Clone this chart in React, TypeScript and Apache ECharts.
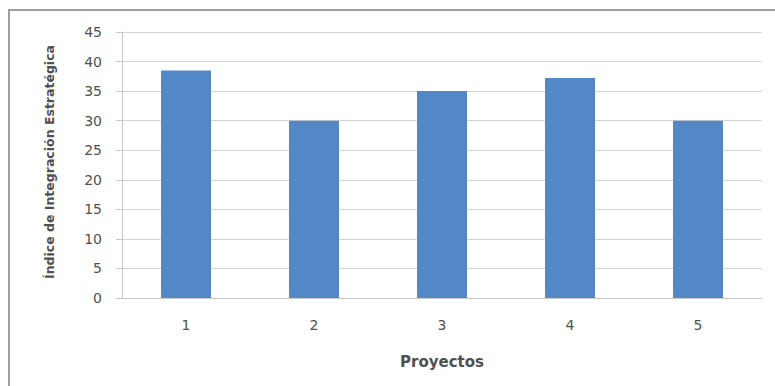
import React, { useEffect, useRef } from "react";
import * as echarts from "echarts";

// Proyectos evaluados y su índice de integración estratégica
const categories = ["1", "2", "3", "4", "5"];
const indexValues = [38.5, 30, 35, 37.2, 30];
const yMin = 0;
const yMax = 45;
const yStep = 5;

const FONT = "'DejaVu Sans', Verdana, sans-serif";
const TEXT = "#505050";

export default function App() {
  const ref = useRef<HTMLDivElement>(null);

  useEffect(() => {
    if (!ref.current) return;
    const chart = echarts.init(ref.current, undefined, { renderer: "svg" });
    chart.setOption({
      animation: false,
      backgroundColor: "#ffffff",
      graphic: [
        {
          type: "rect",
          shape: { x: 9, y: 10, width: 800, height: 400 },
          style: { fill: "none", stroke: "#a0a0a0", lineWidth: 2 },
          silent: true,
        },
      ],
      grid: { left: 122, right: 13, top: 32, bottom: 88, containLabel: false },
      xAxis: {
        type: "category",
        data: categories,
        name: "Proyectos",
        nameLocation: "middle",
        nameGap: 56,
        nameTextStyle: { fontFamily: FONT, fontSize: 15, fontWeight: "bold", color: TEXT },
        axisLine: { show: true, lineStyle: { color: "#c8c8c8", width: 1 } },
        axisTick: { show: false },
        axisLabel: { fontFamily: FONT, fontSize: 14, color: TEXT, margin: 20 },
      },
      yAxis: {
        type: "value",
        min: yMin,
        max: yMax,
        interval: yStep,
        name: "Índice de Integración Estratégica",
        nameLocation: "middle",
        nameGap: 66,
        nameTextStyle: { fontFamily: FONT, fontSize: 12.5, fontWeight: "bold", color: TEXT, padding: [0, 0, 0, 6] },
        axisLine: { show: true, lineStyle: { color: "#c8c8c8", width: 1 } },
        axisTick: { show: true, inside: false, length: 6, lineStyle: { color: "#c8c8c8" } },
        axisLabel: { fontFamily: FONT, fontSize: 14, color: TEXT, margin: 20 },
        splitLine: { show: true, lineStyle: { color: "#d4d4d4", width: 1 } },
      },
      series: [
        {
          type: "bar",
          data: indexValues,
          barWidth: 50,
          itemStyle: { color: "#5387C6" },
        },
      ],
    });
    return () => chart.dispose();
  }, []);

  return (
    <div
      ref={ref}
      style={{ position: "fixed", left: 0, top: 0, width: 775, height: 386 }}
    />
  );
}
